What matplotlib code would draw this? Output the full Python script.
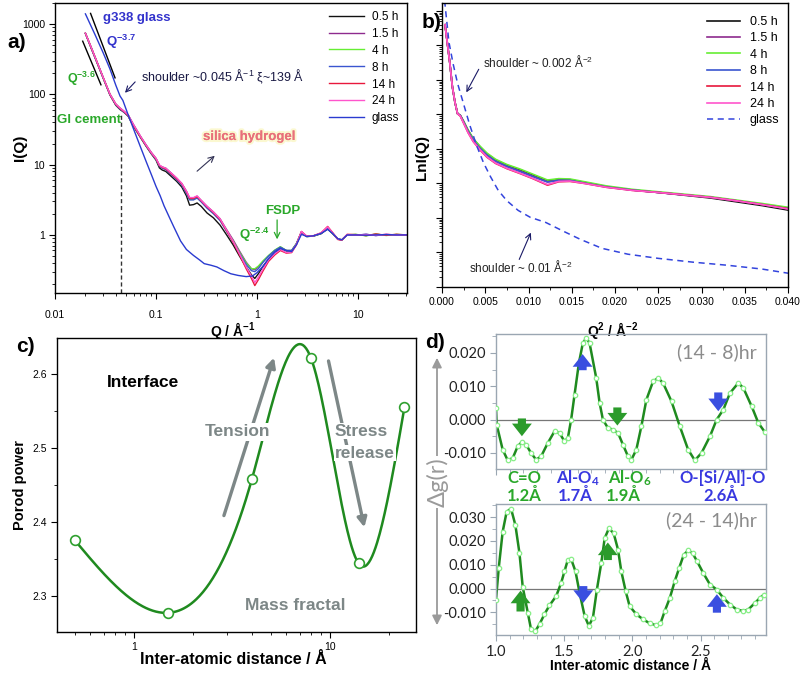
import numpy as np
import matplotlib
matplotlib.use("Agg")
import matplotlib.pyplot as plt
from matplotlib import ticker
import matplotlib.patheffects as pe

plt.rcParams['font.family'] = ['Liberation Sans', 'DejaVu Sans']
plt.rcParams['mathtext.default'] = 'regular'
plt.rcParams['axes.linewidth'] = 1.0

W, H = 802, 676
fig = plt.figure(figsize=(W / 100, H / 100), dpi=100)


def fx(x):
    return x / W


def fy(y):
    return 1 - y / H


def ax_at(l, t, r, b):
    ax = fig.add_axes([l / W, 1 - b / H, (r - l) / W, (b - t) / H])
    ax.patch.set_alpha(0)
    return ax


# ---------------------------------------------------------------- data (a)
labels_h = ['0.5 h', '1.5 h', '4 h', '8 h', '14 h', '24 h']
colors_h = ['#111111', '#8e2a8e', '#66ee33', '#3a55d0', '#e8183c', '#ff55cc']

QA = [0.020, 0.023, 0.026, 0.030, 0.035, 0.040, 0.044, 0.048, 0.053, 0.060, 0.070, 0.080,
      0.090, 0.100, 0.108, 0.115, 0.125, 0.140, 0.160, 0.180, 0.200, 0.215, 0.235, 0.255,
      0.280, 0.320, 0.370, 0.430, 0.500, 0.580, 0.670, 0.780, 0.880, 0.950, 1.030, 1.150,
      1.300, 1.500, 1.700, 1.950, 2.200, 2.450, 2.750, 3.100, 3.600, 4.300, 5.000, 5.600,
      6.300, 6.900, 7.800, 9.500, 12.0, 15.0, 19.0, 24.0, 30.0]
I_05h = [735, 440, 285, 170, 98, 70, 61, 56, 49, 35, 24.5, 18.2, 14.2, 11.6, 9.0, 8.4, 8.0,
         6.9, 5.8, 4.8, 3.6, 2.65, 2.7, 2.85, 2.55, 2.05, 1.75, 1.38, 1.0, 0.72, 0.50, 0.35,
         0.27, 0.24, 0.28, 0.36, 0.45, 0.57, 0.65, 0.59, 0.59, 0.74, 1.08, 0.95, 0.96, 1.04,
         1.22, 1.04, 0.87, 0.85, 1.0, 1.01, 0.98, 1.02, 0.99, 1.01, 1.0]
I_15h = [745, 455, 292, 175, 101, 73, 64, 58, 51, 37, 25.5, 19.0, 14.9, 12.3, 9.8, 9.3, 8.9,
         7.7, 6.4, 5.4, 4.2, 3.35, 3.35, 3.55, 3.1, 2.55, 2.12, 1.7, 1.19, 0.85, 0.59, 0.41,
         0.33, 0.32, 0.35, 0.42, 0.5, 0.6, 0.67, 0.6, 0.6, 0.75, 1.1, 0.95, 0.97, 1.05,
         1.26, 1.06, 0.88, 0.85, 1.0, 0.99, 1.02, 0.98, 1.02, 0.99, 1.0]
I_4h = [740, 450, 290, 172, 100, 72, 63, 57, 50, 36, 25, 18.5, 14.5, 12.0, 9.6, 9.0, 8.6,
        7.4, 6.2, 5.2, 4.0, 3.2, 3.2, 3.4, 3.0, 2.45, 2.05, 1.65, 1.15, 0.82, 0.57, 0.40,
        0.33, 0.33, 0.36, 0.43, 0.51, 0.61, 0.68, 0.6, 0.6, 0.75, 1.1, 0.95, 0.96, 1.05,
        1.25, 1.05, 0.88, 0.85, 1.0, 1.02, 0.97, 1.03, 0.98, 1.02, 1.0]
I_8h = [738, 448, 288, 171, 99, 71, 62, 56, 50, 36, 25, 18.4, 14.4, 11.9, 9.5, 8.9, 8.5,
        7.3, 6.1, 5.1, 3.9, 3.15, 3.15, 3.35, 2.95, 2.4, 2.0, 1.6, 1.12, 0.8, 0.55, 0.38,
        0.31, 0.30, 0.33, 0.41, 0.5, 0.6, 0.67, 0.6, 0.6, 0.74, 1.1, 0.95, 0.96, 1.05,
        1.25, 1.05, 0.88, 0.85, 1.0, 0.99, 1.02, 0.98, 1.01, 1.0, 1.0]
I_14h = [742, 452, 291, 173, 100, 72, 63, 57, 50, 36, 25, 18.6, 14.6, 12.1, 9.7, 9.1, 8.7,
         7.5, 6.3, 5.3, 4.1, 3.3, 3.3, 3.5, 3.05, 2.5, 2.08, 1.66, 1.14, 0.79, 0.52, 0.33,
         0.24, 0.19, 0.23, 0.31, 0.42, 0.52, 0.6, 0.55, 0.56, 0.72, 1.12, 0.96, 0.97, 1.07,
         1.32, 1.08, 0.86, 0.84, 1.02, 1.01, 0.98, 1.03, 0.99, 1.02, 1.0]
I_24h = [744, 454, 292, 174, 101, 73, 64, 58, 51, 37, 25.5, 18.9, 14.8, 12.3, 9.9, 9.3, 8.9,
         7.7, 6.5, 5.4, 4.2, 3.4, 3.4, 3.6, 3.1, 2.55, 2.12, 1.7, 1.17, 0.81, 0.54, 0.35,
         0.26, 0.21, 0.25, 0.33, 0.44, 0.54, 0.62, 0.56, 0.57, 0.73, 1.12, 0.96, 0.97, 1.07,
         1.3, 1.07, 0.87, 0.85, 1.01, 1.0, 1.01, 0.99, 1.02, 1.0, 1.0]
I_samples = [I_05h, I_15h, I_4h, I_8h, I_14h, I_24h]

QG = [0.020, 0.025, 0.030, 0.035, 0.040, 0.044, 0.047, 0.052, 0.060, 0.070, 0.080, 0.090,
      0.100, 0.110, 0.120, 0.135, 0.150, 0.175, 0.200, 0.235, 0.270, 0.300, 0.350, 0.400,
      0.470, 0.550, 0.650, 0.780, 0.900, 1.000, 1.150, 1.300, 1.500, 1.700, 1.950, 2.200,
      2.450, 2.750, 3.100, 3.600, 4.300, 5.000, 5.600, 6.300, 6.900, 7.800, 9.5, 12.0,
      15.0, 19.0, 24.0, 30.0]
I_glass = [1400, 700, 390, 230, 135, 95, 82, 55, 32, 18, 11, 7.2, 4.9, 3.6, 2.6, 1.8, 1.3,
           0.82, 0.62, 0.51, 0.44, 0.39, 0.37, 0.35, 0.31, 0.28, 0.265, 0.255, 0.26, 0.29,
           0.36, 0.46, 0.57, 0.64, 0.6, 0.58, 0.72, 1.02, 0.95, 0.97, 1.05, 1.2, 1.05, 0.88,
           0.85, 1.0, 1.0, 0.99, 1.0, 1.01, 1.0, 1.0]

# power-law guide segments (Q, I)
guide_cement_Q = [0.0188, 0.0285]
guide_cement_I = [572, 137]
guide_glass_Q = [0.0225, 0.0393]
guide_glass_I = [1422, 172]

# ---------------------------------------------------------------- data (b)
Q2_s = [0.00035, 0.0006, 0.0009, 0.0012, 0.0015, 0.0018, 0.0021, 0.0025, 0.0030, 0.0036,
        0.0044, 0.0052, 0.0062, 0.0075, 0.0090, 0.0105, 0.0122, 0.0135, 0.0148, 0.0165,
        0.0190, 0.0220, 0.0250, 0.0280, 0.0310, 0.0340, 0.0370, 0.0400]
L_4h = [7.6, 7.1, 6.5, 5.8, 5.35, 5.02, 4.98, 4.8, 4.55, 4.3, 4.08, 3.88, 3.7, 3.55, 3.42,
        3.27, 3.1, 3.14, 3.13, 3.05, 2.93, 2.83, 2.76, 2.69, 2.62, 2.52, 2.42, 2.31]
L_05h = [7.6, 7.1, 6.5, 5.8, 5.35, 5.02, 4.98, 4.8, 4.55, 4.3, 4.06, 3.86, 3.68, 3.53, 3.4,
         3.25, 3.08, 3.12, 3.11, 3.03, 2.91, 2.81, 2.74, 2.66, 2.58, 2.47, 2.36, 2.23]
L_15h = [7.6, 7.1, 6.5, 5.8, 5.35, 5.02, 4.98, 4.78, 4.52, 4.26, 4.03, 3.83, 3.65, 3.5, 3.36,
         3.21, 3.05, 3.1, 3.1, 3.02, 2.9, 2.81, 2.74, 2.67, 2.6, 2.5, 2.39, 2.27]
L_8h = [7.6, 7.1, 6.5, 5.8, 5.35, 5.02, 4.98, 4.78, 4.52, 4.26, 4.02, 3.82, 3.64, 3.49, 3.35,
        3.2, 3.04, 3.09, 3.09, 3.01, 2.9, 2.81, 2.74, 2.67, 2.6, 2.5, 2.39, 2.27]
L_14h = [7.6, 7.1, 6.5, 5.8, 5.35, 5.02, 4.96, 4.75, 4.48, 4.22, 3.97, 3.76, 3.58, 3.43, 3.29,
         3.14, 2.95, 3.05, 3.06, 3.0, 2.89, 2.8, 2.74, 2.67, 2.6, 2.5, 2.39, 2.27]
L_24h = [7.6, 7.1, 6.5, 5.8, 5.35, 5.02, 4.96, 4.75, 4.48, 4.22, 3.98, 3.77, 3.59, 3.44, 3.3,
         3.15, 2.97, 3.06, 3.07, 3.0, 2.89, 2.8, 2.74, 2.67, 2.6, 2.5, 2.39, 2.26]
L_samples = [L_05h, L_15h, L_4h, L_8h, L_14h, L_24h]

Q2_g = [0.0003, 0.0008, 0.0013, 0.0018, 0.0025, 0.0032, 0.0040, 0.0048, 0.0056, 0.0065,
        0.0075, 0.0088, 0.0102, 0.0120, 0.0140, 0.0160, 0.0185, 0.0215, 0.0250, 0.0290,
        0.0330, 0.0370, 0.0400]
L_glass = [8.3, 7.1, 6.45, 5.9, 5.3, 4.7, 4.1, 3.6, 3.2, 2.8, 2.5, 2.22, 2.02, 1.87, 1.62,
           1.38, 1.12, 0.95, 0.83, 0.72, 0.63, 0.52, 0.40]

# ---------------------------------------------------------------- data (c)
c_x = [0.5, 1.5, 4, 8, 14, 24]
c_porod = [2.375, 2.277, 2.458, 2.622, 2.344, 2.555]

# ---------------------------------------------------------------- data (d)
r_top = [1.0, 1.005, 1.049, 1.086, 1.123, 1.159, 1.189, 1.221, 1.257, 1.294, 1.331, 1.38,
         1.429, 1.466, 1.502, 1.527, 1.551, 1.576, 1.608, 1.637, 1.662, 1.686, 1.735, 1.76,
         1.784, 1.821, 1.858, 1.895, 1.931, 1.968, 1.993, 2.029, 2.066, 2.103, 2.152, 2.189,
         2.225, 2.287, 2.348, 2.409, 2.458, 2.507, 2.569, 2.618, 2.667, 2.716, 2.777, 2.814,
         2.875, 2.924, 2.973]
dg_top = [0.0035, -0.0015, -0.009, -0.0122, -0.0115, -0.008, -0.0067, -0.0075, -0.010,
          -0.012, -0.011, -0.007, -0.0035, -0.004, -0.0065, -0.0055, 0.0, 0.0075, 0.017,
          0.023, 0.0245, 0.023, 0.0125, 0.005, 0.0, -0.0025, -0.003, -0.004, -0.0075, -0.011,
          -0.012, -0.009, -0.002, 0.006, 0.0115, 0.0125, 0.011, 0.0055, -0.002, -0.009,
          -0.0122, -0.010, -0.005, 0.0, 0.003, 0.008, 0.011, 0.0095, 0.004, -0.001, -0.0038]
r_bot = [1.0, 1.02, 1.049, 1.078, 1.11, 1.142, 1.172, 1.196, 1.233, 1.257, 1.289, 1.319,
         1.355, 1.392, 1.441, 1.478, 1.502, 1.527, 1.551, 1.583, 1.613, 1.65, 1.681, 1.711,
         1.74, 1.772, 1.797, 1.828, 1.863, 1.895, 1.919, 1.951, 1.98, 2.029, 2.078, 2.127,
         2.176, 2.206, 2.238, 2.275, 2.311, 2.343, 2.377, 2.409, 2.441, 2.475, 2.52, 2.569,
         2.618, 2.667, 2.716, 2.765, 2.814, 2.85, 2.9, 2.936, 2.966]
dg_bot = [-0.0046, 0.0086, 0.0239, 0.0322, 0.0336, 0.0267, 0.0149, 0.0007, -0.0101,
          -0.0171, -0.0178, -0.015, -0.0108, -0.0071, -0.0032, 0.0024, 0.0072, 0.0121,
          0.0124, 0.0072, -0.0018, -0.0115, -0.0157, -0.0122, -0.0004, 0.0107, 0.0211,
          0.0253, 0.0232, 0.0163, 0.0072, -0.0011, -0.0074, -0.0108, -0.0129, -0.0146,
          -0.0154, -0.0146, -0.0094, -0.0039, 0.0031, 0.0086, 0.0142, 0.016, 0.0149, 0.0114,
          0.0065, 0.0017, -0.0004, -0.0039, -0.0067, -0.0088, -0.0094, -0.0088, -0.006,
          -0.0039, -0.0025]

# ================================================================ panel a
axa = ax_at(55, 3, 407, 293)
for lab, col, I in zip(labels_h, colors_h, I_samples):
    axa.plot(QA, I, color=col, lw=1.0, label=lab)
axa.plot(QG, I_glass, color='#2a3bd0', lw=1.0, label='glass')
axa.plot(guide_cement_Q, guide_cement_I, color='black', lw=1.0)
axa.plot(guide_glass_Q, guide_glass_I, color='black', lw=1.0)
axa.set_xscale('log')
axa.set_yscale('log')
axa.set_xlim(0.01, 30.5)
axa.set_ylim(0.149, 2000)
axa.plot([0.045, 0.045], [0.149, 54], ls=(0, (3, 2)), color='#333333', lw=1.0)
axa.xaxis.set_major_formatter(ticker.FuncFormatter(lambda v, p: f'{v:g}'))
axa.yaxis.set_major_formatter(ticker.FuncFormatter(lambda v, p: f'{v:g}'))
axa.tick_params(which='both', direction='out', labelsize=7.5, pad=3)
axa.tick_params(which='major', length=4)
axa.tick_params(which='minor', length=2)
axa.tick_params(axis='x', pad=8)
axa.set_ylabel('I(Q)', fontsize=11, fontweight='bold')
axa.yaxis.set_label_coords(-(55 - 27) / 352, 0.5)
axa.set_xlabel('Q / Å$^{-1}$', fontsize=10, fontweight='bold')
axa.xaxis.set_label_coords((233 - 55) / 352, -(320 - 293) / 290)
axa.legend(loc='upper right', bbox_to_anchor=(1.0, 1.0), frameon=False, fontsize=8.5,
           handlelength=2.9, handletextpad=0.7, labelspacing=0.42, borderaxespad=0.25)

green_t = '#2aa82a'
blue_t = '#3333cc'
fig.text(fx(17), fy(43), 'a)', fontsize=15, fontweight='bold', ha='center', va='center')
fig.text(fx(103), fy(18), 'g338 glass', color=blue_t, fontsize=9.5, fontweight='bold', va='center')
fig.text(fx(106), fy(42), 'Q$^{-3.7}$', color=blue_t, fontsize=9.5, fontweight='bold', va='center')
fig.text(fx(67), fy(79), 'Q$^{-3.6}$', color=green_t, fontsize=9, fontweight='bold', va='center')
fig.text(fx(141), fy(77), 'shoulder ~0.045 Å$^{-1}$ ξ~139 Å', color='#1a1a44', fontsize=9, va='center')
axa.annotate('', xy=(0.0472, 98.7), xytext=(0.0649, 161),
             arrowprops=dict(arrowstyle='->', color='#1a1a66', lw=0.8))
fig.text(fx(57), fy(120), 'Gl cement', color=green_t, fontsize=9.5, fontweight='bold', va='center')
t = fig.text(fx(203), fy(137), 'silica hydrogel', color='#e8707a', fontsize=9.5,
             fontweight='bold', va='center')
t.set_path_effects([pe.withStroke(linewidth=3, foreground='#fbf8d0'), pe.Normal()])
axa.annotate('', xy=(0.40, 14.2), xytext=(0.243, 7.6),
             arrowprops=dict(arrowstyle='->', color='#333355', lw=0.8))
fig.text(fx(239), fy(235), 'Q$^{-2.4}$', color=green_t, fontsize=9.5, fontweight='bold', va='center')
fig.text(fx(265), fy(211), 'FSDP', color=green_t, fontsize=9.5, fontweight='bold', va='center')
axa.annotate('', xy=(1.58, 0.79), xytext=(1.58, 1.79),
             arrowprops=dict(arrowstyle='->', color=green_t, lw=0.9))

# ================================================================ panel b
axb = ax_at(442, 3, 788, 287)
for lab, col, L in zip(labels_h, colors_h, L_samples):
    axb.plot(Q2_s, 10 ** np.array(L), color=col, lw=1.2, label=lab)
axb.plot(Q2_g, 10 ** np.array(L_glass), color='#3344dd', lw=1.1, ls=(0, (4, 3)), label='glass')
axb.set_yscale('log')
axb.set_xlim(0, 0.040)
axb.set_ylim(1, 10 ** 8.23)
axb.xaxis.set_major_locator(ticker.MultipleLocator(0.005))
axb.xaxis.set_minor_locator(ticker.MultipleLocator(0.0025))
axb.xaxis.set_major_formatter(ticker.FormatStrFormatter('%.3f'))
axb.yaxis.set_major_locator(ticker.LogLocator(base=10, numticks=20))
axb.yaxis.set_minor_locator(ticker.LogLocator(base=10, subs=np.arange(2, 10), numticks=20))
axb.yaxis.set_major_formatter(ticker.NullFormatter())
axb.yaxis.set_minor_formatter(ticker.NullFormatter())
axb.tick_params(which='both', direction='out', labelsize=7.5, pad=3)
axb.tick_params(which='major', length=4)
axb.tick_params(which='minor', length=2)
axb.set_ylabel('LnI(Q)', fontsize=11, fontweight='bold')
axb.yaxis.set_label_coords(-(442 - 429) / 346, (287 - 157) / 284)
axb.set_xlabel('Q$^{2}$ / Å$^{-2}$', fontsize=10, fontweight='bold')
axb.xaxis.set_label_coords((613 - 442) / 346, -(320 - 287) / 284)
axb.legend(loc='upper right', bbox_to_anchor=(1.0, 0.985), frameon=False, fontsize=9,
           handlelength=2.6, handletextpad=0.8, labelspacing=0.35, borderaxespad=0.3)
fig.text(fx(432), fy(22), 'b)', fontsize=15, fontweight='bold', ha='center', va='center')
fig.text(fx(483), fy(62), 'shoulder ~ 0.002 Å$^{-2}$', color='#222222', fontsize=8.5, va='center')
axb.annotate('', xy=(0.00266, 10 ** 5.57), xytext=(0.0044, 10 ** 6.38),
             arrowprops=dict(arrowstyle='->', color='#1a1a66', lw=0.8))
fig.text(fx(469), fy(267), 'shoulder ~ 0.01 Å$^{-2}$', color='#222222', fontsize=8.5, va='center')
axb.annotate('', xy=(0.0104, 10 ** 1.65), xytext=(0.0088, 10 ** 0.725),
             arrowprops=dict(arrowstyle='->', color='#1a1a66', lw=0.8))


# ================================================================ panel c
def natural_spline(x, y, xn):
    x = np.asarray(x, float)
    y = np.asarray(y, float)
    n = len(x)
    h = np.diff(x)
    A = np.zeros((n, n))
    rhs = np.zeros(n)
    A[0, 0] = A[-1, -1] = 1.0
    for i in range(1, n - 1):
        A[i, i - 1] = h[i - 1]
        A[i, i] = 2 * (h[i - 1] + h[i])
        A[i, i + 1] = h[i]
        rhs[i] = 3 * ((y[i + 1] - y[i]) / h[i] - (y[i] - y[i - 1]) / h[i - 1])
    c = np.linalg.solve(A, rhs)
    b = (y[1:] - y[:-1]) / h - h * (2 * c[:-1] + c[1:]) / 3
    d = (c[1:] - c[:-1]) / (3 * h)
    idx = np.clip(np.searchsorted(x, xn) - 1, 0, n - 2)
    dx = xn - x[idx]
    return y[idx] + b[idx] * dx + c[idx] * dx ** 2 + d[idx] * dx ** 3


axc = ax_at(57, 338, 416, 632)
lx = np.log10(c_x)
xs = np.linspace(lx[0], lx[-1], 400)
axc.plot(10 ** xs, natural_spline(lx, c_porod, xs), color='#1f8a1f', lw=1.8)
axc.plot(c_x, c_porod, 'o', ms=7, mfc='white', mec='#2fa02f', mew=1.2)
axc.set_xscale('log')
axc.set_xlim(0.405, 27.5)
axc.set_ylim(2.251, 2.649)
axc.yaxis.set_major_locator(ticker.MultipleLocator(0.1))
axc.yaxis.set_minor_locator(ticker.MultipleLocator(0.05))
axc.xaxis.set_major_formatter(ticker.FuncFormatter(lambda v, p: f'{v:g}'))
axc.xaxis.set_minor_formatter(ticker.NullFormatter())
axc.tick_params(which='both', direction='out', labelsize=7.5, pad=3)
axc.tick_params(which='major', length=4)
axc.tick_params(which='minor', length=2)
axc.set_ylabel('Porod power', fontsize=10.5, fontweight='bold')
axc.yaxis.set_label_coords(-(57 - 27) / 359, 0.5)
axc.set_xlabel('Inter-atomic distance / Å', fontsize=11.5, fontweight='bold')
axc.xaxis.set_label_coords((233 - 57) / 359, -(652 - 632) / 294)
gray_c = '#7d8787'
fig.text(fx(25), fy(347), 'c)', fontsize=15, fontweight='bold', ha='center', va='center')
fig.text(fx(107), fy(383), 'Interface', fontsize=12.5, fontweight='bold', va='center')
axc.annotate('', xy=(5.24, 2.626), xytext=(2.85, 2.405),
             arrowprops=dict(arrowstyle='-|>', color=gray_c, lw=2.4, mutation_scale=14))
axc.annotate('', xy=(15.1, 2.389), xytext=(9.77, 2.6216),
             arrowprops=dict(arrowstyle='-|>', color=gray_c, lw=2.4, mutation_scale=14))
fig.text(fx(237), fy(432), 'Tension', color=gray_c, fontsize=12.5, fontweight='bold',
         ha='center', va='center', bbox=dict(fc='white', ec='none', pad=1))
fig.text(fx(335), fy(431), 'Stress', color=gray_c, fontsize=12.5, fontweight='bold',
         va='center', bbox=dict(fc='white', ec='none', pad=0.5))
fig.text(fx(335), fy(453), 'release', color=gray_c, fontsize=12.5, fontweight='bold',
         va='center', bbox=dict(fc='white', ec='none', pad=0.5))
fig.text(fx(245), fy(605), 'Mass fractal', color=gray_c, fontsize=12.5, fontweight='bold',
         va='center')

# ================================================================ panel d
dfont = ['Lato', 'DejaVu Sans']
spine_c = '#9aa6b2'
line_g = '#1f8a1f'
mark_g = '#88ee88'
arrow_g = '#2b9b2b'
arrow_b = '#3a4fe0'


def style_d(ax):
    for s in ax.spines.values():
        s.set_color(spine_c)
    ax.set_xlim(1.0, 2.98)
    ax.xaxis.set_major_locator(ticker.MultipleLocator(0.5))
    ax.xaxis.set_minor_locator(ticker.MultipleLocator(0.1))
    ax.yaxis.set_major_locator(ticker.MultipleLocator(0.01))
    ax.yaxis.set_minor_locator(ticker.MultipleLocator(0.005))
    ax.yaxis.set_major_formatter(ticker.FormatStrFormatter('%.3f'))
    ax.tick_params(which='both', direction='out', colors=spine_c, labelcolor='#222222',
                   labelsize=10.5)
    ax.tick_params(which='major', length=4)
    ax.tick_params(which='minor', length=3)
    for lb in ax.get_xticklabels() + ax.get_yticklabels():
        lb.set_family(dfont)
    ax.axhline(0, color='#777777', lw=0.9, zorder=1)


def block_arrow(ax, x, y0, y1, col):
    ax.annotate('', xy=(x, y1), xytext=(x, y0),
                arrowprops=dict(arrowstyle='simple,head_width=1.1,head_length=0.7,tail_width=0.45',
                                color=col, ec='none', mutation_scale=13), zorder=5)


axd1 = ax_at(496, 334, 766, 469)
axd1.plot(r_top, dg_top, color=line_g, lw=1.8, zorder=2)
axd1.plot(r_top, dg_top, 'o', ms=3.2, mfc='white', mec=mark_g, mew=0.9, zorder=3)
axd1.set_ylim(-0.0148, 0.0257)
style_d(axd1)
axd1.set_xticklabels([])
block_arrow(axd1, 1.19, 0.0012, -0.0058, arrow_g)
block_arrow(axd1, 1.635, 0.0140, 0.0205, arrow_b)
block_arrow(axd1, 1.89, 0.0045, -0.0026, arrow_g)
block_arrow(axd1, 2.63, 0.0090, 0.0017, arrow_b)

axd2 = ax_at(496, 504, 766, 635)
axd2.plot(r_bot, dg_bot, color=line_g, lw=1.8, zorder=2)
axd2.plot(r_bot, dg_bot, 'o', ms=3.2, mfc='white', mec=mark_g, mew=0.9, zorder=3)
axd2.set_ylim(-0.0195, 0.0355)
style_d(axd2)
axd2.xaxis.set_major_formatter(ticker.FormatStrFormatter('%.1f'))
axd2.set_xlabel('Inter-atomic distance / Å', fontsize=10, fontweight='bold')
axd2.xaxis.set_label_coords((631 - 496) / 270, -(659 - 635) / 131)
block_arrow(axd2, 1.18, -0.0108, 0.0003, arrow_g)
block_arrow(axd2, 1.64, 0.0022, -0.0072, arrow_b)
block_arrow(axd2, 1.82, 0.0108, 0.0205, arrow_g)
block_arrow(axd2, 2.62, -0.0113, -0.0012, arrow_b)

fig.text(fx(435), fy(342), 'd)', fontsize=15, fontweight='bold', ha='center', va='center')
fig.text(fx(757), fy(352), '(14 - 8)hr', color='#8c8c8c', fontsize=14, ha='right',
         va='center', family=dfont)
fig.text(fx(757), fy(520), '(24 - 14)hr', color='#8c8c8c', fontsize=14, ha='right',
         va='center', family=dfont)
for txt, xc, y1, col in [('C=O', 524, 478, green_t), ('1.2Å', 524, 496, green_t),
                         ('Al-O$_4$', 578, 478, '#3838e0'), ('1.7Å', 575, 496, '#3838e0'),
                         ('Al-O$_6$', 630, 478, green_t), ('1.9Å', 623, 496, green_t),
                         ('O-[Si/Al]-O', 723, 478, '#3838e0'), ('2.6Å', 721, 496, '#3838e0')]:
    fig.text(fx(xc), fy(y1), txt, color=col, fontsize=12, fontweight='bold', ha='center',
             va='center', family=dfont)

# Delta g(r) double arrow
fig.add_artist(matplotlib.patches.FancyArrowPatch((fx(437), fy(490)), (fx(437), fy(355)),
                                                  transform=fig.transFigure, arrowstyle='-|>',
                                                  mutation_scale=14, color='#9a9a9a', lw=1.3))
fig.add_artist(matplotlib.patches.FancyArrowPatch((fx(437), fy(490)), (fx(437), fy(628)),
                                                  transform=fig.transFigure, arrowstyle='-|>',
                                                  mutation_scale=14, color='#9a9a9a', lw=1.3))
fig.text(fx(438), fy(482), 'Δg(r)', color='#9a9a9a', fontsize=17, rotation=90, ha='center',
         va='center', family=dfont, bbox=dict(fc='white', ec='none', pad=1))

fig.savefig('out.png', dpi=100)
